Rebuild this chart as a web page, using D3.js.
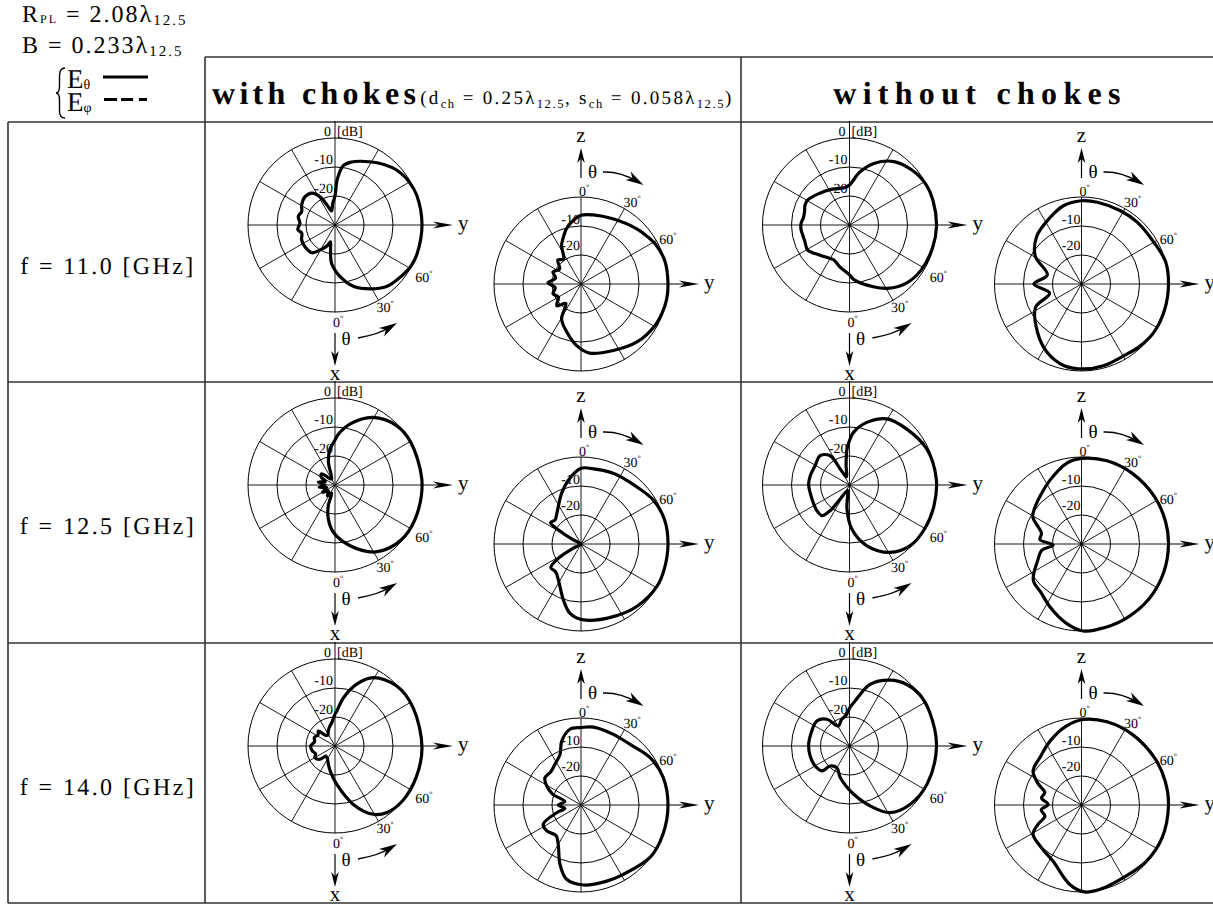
<!DOCTYPE html>
<html>
<head>
<meta charset="utf-8">
<script src="https://cdn.jsdelivr.net/npm/d3@7"></script>
<style>
  html, body { margin: 0; padding: 0; background: #fff; }
  svg { display: block; font-family: "Liberation Serif", "Times New Roman", serif; text-rendering: geometricPrecision; }
</style>
</head>
<body>
<svg id="chart" width="1213" height="905"></svg>
<script>
// ---------------- data ----------------
const frequencies = ["f = 11.0 [GHz]", "f = 12.5 [GHz]", "f = 14.0 [GHz]"];
const configurations = ["with chokes", "without chokes"];
const ringLevels = [0, -10, -20];          // dB rings, centre of each plot = -30 dB
const levelLabels = [-10, -20];
const spokeAngles = [0, 30, 60, 90, 120, 150, 180, 210, 240, 270, 300, 330];
const thetaMarks = [0, 30, 60];

// E-theta patterns: [bearing on the plot in degrees (clockwise from the top), level in dB]
// xy cut: theta runs from +x (down) towards +y (right); zy cut: from +z (up) towards +y (right)
const xyWith110 = [[0,-20],[3,-14],[8,-9.3],[15,-7.5],[22,-6.3],[34,-4.1],[45,-2],[52,-1.1],[60,-0.4],[70,0],[90,0],[110,0],[118,-0.2],[123,-0.6],[132,-1.5],[140,-2.3],[151,-4.8],[163,-7.8],[174,-12],[185,-16.7],[191,-22],[195,-24],[200,-22.5],[211,-19.9],[220,-17.5],[234,-17.2],[246,-17.4],[256,-18.2],[263,-17.1],[273,-17.9],[283,-17],[292,-17.6],[301,-16.6],[313,-15.8],[324,-16.4],[332,-19],[339,-23],[346,-25],[354,-22.5]];
const zyWith110 = [[0,-6.3],[10,-5.8],[26,-5],[45,-3],[55,-1.8],[63,-0.8],[75,0],[90,0],[100,0],[110,-0.3],[119,-0.7],[136,-2.2],[154,-4.5],[173,-6],[184,-8.7],[196,-12.6],[209,-16.2],[218,-21.5],[228,-18.8],[240,-21],[251,-19.8],[262,-21],[272,-18.6],[283,-21],[293,-19.5],[305,-21],[316,-18.5],[325,-19.5],[333,-15.2],[338,-13.3],[345,-10.4],[351,-8.5]];
const xyWithout110 = [[0,-16.2],[11,-11.4],[22,-7],[35,-3.3],[48,-1.4],[61,-0.2],[74,0],[91,0],[105,-0.3],[122,-0.8],[136,-2],[149,-4.5],[159,-7.2],[175,-11],[180,-12.8],[193,-15.2],[204,-16.8],[211,-16.6],[225,-15.4],[239,-13.2],[250,-13.6],[258,-13.5],[265,-13.2],[272,-13.3],[279,-13.9],[287,-13.8],[294,-13.2],[301,-13.2],[317,-15],[330,-16],[345,-16.9],[352,-17]];
const zyWithout110 = [[0,-1.3],[11,-1.3],[28,-1.4],[42,-1.3],[60,-1.2],[75,0],[90,0],[107,0],[124,0],[137,-0.6],[150,-1.3],[165,-0.8],[178,-0.7],[192,-1.2],[207,-3.7],[222,-7.4],[243,-12.2],[254,-18.6],[270,-13.6],[285,-17.8],[301,-11.4],[317,-7.4],[335,-4.6],[347,-2.3]];

const xyWith125 = [[0,-14.5],[4,-12.4],[14,-8.3],[29.5,-3.2],[46,-0.5],[60,0],[86,0],[106,0],[122,0],[130,-0.4],[139,-1.3],[150,-3.3],[166,-8.4],[182,-13.7],[191,-18],[198,-22.5],[203,-27],[215,-25.5],[228,-27],[240,-25],[252,-27],[262,-24.5],[271,-26.5],[280,-24.2],[290,-26.5],[300,-24.5],[310,-24],[320,-27],[331,-27.6],[344,-21.8],[352,-17.5]];
const zyWith125 = [[0,-3.9],[7,-3.7],[25,-3.2],[44,-2.5],[59,-0.8],[74,0],[90,0],[107,0],[119,0],[138,-1.1],[156,-2.6],[178,-3.8],[189,-5.8],[197.5,-9.8],[212,-15.3],[222,-17],[232,-16.8],[238,-21],[242,-27],[270,-30],[298,-27],[302,-21],[305,-17.2],[313,-17.8],[322,-16.5],[339,-11.3],[349,-7.5]];
const xyWithout125 = [[0,-14.7],[4.3,-11.8],[15.5,-7.6],[29.5,-3.8],[45.7,-2.4],[65,-0.6],[86,0],[104,0],[120,0],[135,-0.4],[149,-2.9],[164,-8.2],[177,-14.8],[186,-21.7],[190,-26.2],[200,-28],[213.6,-24.2],[217,-18.9],[222,-15.8],[232,-15.7],[250,-16.2],[271,-15.9],[283,-16.1],[299,-16.4],[315,-15.7],[326.6,-17.9],[330,-23.6],[340,-27],[350,-23.2],[356,-17.6]];
const zyWithout125 = [[0,-0.5],[17,0],[36,0],[57,0],[75,0],[90,0],[109,0],[129,0],[151,-0.1],[170,0],[179,0],[191,-2.2],[207,-5.8],[219,-8.1],[233,-9.2],[250,-14],[261,-16.1],[268,-20.2],[276,-15.6],[285,-15.7],[299,-10.8],[307,-9.7],[319,-8.2],[334,-5.4],[349.5,-1.7]];

const xyWith140 = [[0,-19],[3,-17.9],[10,-13.1],[19.4,-7.4],[29.3,-3],[45.8,-0.3],[64,0],[91,0],[111,0],[129,0],[142,-0.9],[150.7,-3],[162.6,-8.9],[177.5,-16.8],[190,-21],[200,-23.3],[212,-25],[222,-25.3],[228.5,-23.1],[240,-22],[248,-22.8],[258,-22],[270,-21.6],[282,-22.8],[292.5,-22.3],[303,-23],[312,-22.3],[318,-25],[327,-25.5],[336,-24.3],[345,-23],[352,-21.9]];
const zyWith140 = [[0,-3.3],[9,-2.8],[24.6,-3.2],[39,-3.1],[55.6,-1.1],[71.6,-0.1],[90,0],[109.6,0],[127,-0.1],[148.6,-2],[161.3,-2.3],[178,-2.4],[191,-3.9],[199.5,-8.3],[210,-14.3],[219,-16.4],[232.8,-15.2],[243,-15.4],[252.4,-21.2],[258,-24.3],[270,-22.2],[282,-24.3],[291,-19.5],[299,-16.5],[307,-14.4],[318,-14.5],[327.4,-13.3],[337.5,-11.1],[343.2,-7],[351.7,-3.6]];
const xyWithout140 = [[0,-17],[7.2,-14.3],[18.5,-7.6],[31.8,-3.3],[43,-1],[53.8,0],[67,0],[90,0],[116,-0.2],[134,-1],[148.6,-3.1],[158.7,-7.2],[175,-13.3],[196,-18.6],[210,-21.3],[224,-20.4],[227.8,-17.2],[239.7,-16.3],[255.7,-16],[272,-15.9],[291.8,-16],[307.5,-15.8],[319.7,-17.9],[331,-22.1],[343,-20.5],[355,-19]];
const zyWithout140 = [[1,-0.5],[17,0],[36,0],[58,0],[74,0],[90,0],[112,0],[131,-0.4],[150,-1.1],[168,-0.2],[178,0],[188.4,-2.3],[207,-8.3],[223,-9.8],[239,-10.5],[246,-13.6],[253,-16.8],[263,-16],[271,-18.5],[280,-16],[289,-16.6],[296,-13.4],[305,-9.6],[319,-8.2],[334,-5.4],[349,-2.3]];

// rows = frequencies, columns = configurations
const patterns = [
  [{ xy: xyWith110, zy: zyWith110 }, { xy: xyWithout110, zy: zyWithout110 }],
  [{ xy: xyWith125, zy: zyWith125 }, { xy: xyWithout125, zy: zyWithout125 }],
  [{ xy: xyWith140, zy: zyWith140 }, { xy: xyWithout140, zy: zyWithout140 }]
];

// ---------------- layout ----------------
const svg = d3.select("#chart");
const R = 87;
const rowTops = [122, 382, 643];
const tableBottom = 903;
const colPlotX = [{ xy: 335, zy: 581 }, { xy: 849.5, zy: 1081.5 }];
const ink = "#000";

const rScale = d3.scaleLinear().domain([-30, 0]).range([0, R]).clamp(true);
const rad = d => d * Math.PI / 180;
const polar = (bearing, r) => [r * Math.sin(rad(bearing)), -r * Math.cos(rad(bearing))];

const patternLine = d3.lineRadial()
  .angle(d => rad(d[0]))
  .radius(d => rScale(d[1]))
  .curve(d3.curveCatmullRomClosed.alpha(0.5));

// ---------------- helpers ----------------
function rich(parent, x, y, parts, attrs = {}) {
  const t = parent.append("text").attr("x", x).attr("y", y).attr("fill", ink);
  Object.entries(attrs).forEach(([k, v]) => t.attr(k, v));
  let cur = 0;
  parts.forEach(p => {
    const s = t.append("tspan").text(p.text).attr("font-size", p.size);
    const off = p.shift || 0;
    s.attr("dy", off - cur);
    cur = off;
    if (p.weight) s.attr("font-weight", p.weight);
    if (p.ls != null) s.attr("letter-spacing", p.ls);
  });
  return t;
}

function arrowHead(g, x, y, angleDeg, len, half) {
  const notch = len * 0.72;
  g.append("path")
    .attr("d", `M0,0 L${-len},${-half} L${-notch},0 L${-len},${half} Z`)
    .attr("transform", `translate(${x},${y}) rotate(${angleDeg})`)
    .attr("fill", ink);
}

function degreeLabel(g, x, y, value, anchor) {
  const t = g.append("text").attr("x", x).attr("y", y)
    .attr("font-size", 14).attr("text-anchor", anchor).attr("fill", ink);
  t.append("tspan").text(value);
  t.append("tspan").attr("font-size", 8).attr("dy", -6).text("\u00B0");
}

function grid(g) {
  g.selectAll("circle.ring").data(ringLevels).join("circle")
    .attr("class", "ring").attr("r", d => rScale(d))
    .attr("fill", "none").attr("stroke", ink).attr("stroke-width", 1);
  g.selectAll("line.spoke").data(spokeAngles).join("line")
    .attr("class", "spoke")
    .attr("x1", 0).attr("y1", 0)
    .attr("x2", a => polar(a, R)[0]).attr("y2", a => polar(a, R)[1])
    .attr("stroke", ink).attr("stroke-width", 0.9);
  // +y axis with arrow
  g.append("line").attr("x1", R).attr("y1", 0).attr("x2", 106).attr("y2", 0)
    .attr("stroke", ink).attr("stroke-width", 1);
  arrowHead(g, 118, 0, 0, 20, 3.6);
  g.append("text").attr("x", 123).attr("y", 5).attr("font-size", 21).attr("fill", ink).text("y");
}

function curve(g, data) {
  g.append("path").attr("d", patternLine(data))
    .attr("fill", "none").attr("stroke", ink)
    .attr("stroke-width", 3.2).attr("stroke-linejoin", "round");
}

function levelText(g, dx, offsets) {
  levelLabels.forEach((lv, k) => {
    g.append("text").attr("x", dx).attr("y", -rScale(lv) - offsets[k])
      .attr("font-size", 14).attr("text-anchor", "end").attr("fill", ink).text(lv);
  });
}

// xy-cut plot: theta from +x (pointing down) towards +y
function drawXY(g, data) {
  g.append("line").attr("x1", 0).attr("y1", -R).attr("x2", 0).attr("y2", -R - 17)
    .attr("stroke", ink).attr("stroke-width", 1);
  grid(g);
  curve(g, data);
  g.append("text").attr("x", -4).attr("y", -R - 2.5).attr("font-size", 14)
    .attr("text-anchor", "end").attr("fill", ink).text("0");
  g.append("text").attr("x", 2).attr("y", -R - 2.5).attr("font-size", 14)
    .attr("fill", ink).text("[dB]");
  levelText(g, -2, [3, 3]);
  thetaMarks.forEach(t => {
    const [ex, ey] = polar(180 - t, R);
    if (t === 0) degreeLabel(g, ex + 3, ey + 14.5, t, "middle");
    else if (t === 30) degreeLabel(g, ex - 2, ey + 12, t, "start");
    else degreeLabel(g, ex + 5, ey + 13, t, "start");
  });
  g.append("line").attr("x1", 0).attr("y1", 108).attr("x2", 0).attr("y2", 130)
    .attr("stroke", ink).attr("stroke-width", 1.2);
  arrowHead(g, 0, 141, 90, 15, 3.8);
  g.append("text").attr("x", 0).attr("y", 155).attr("font-size", 21)
    .attr("text-anchor", "middle").attr("fill", ink).text("x");
  g.append("text").attr("x", 6.5).attr("y", 120).attr("font-size", 19).attr("fill", ink).text("\u03B8");
  g.append("path").attr("d", "M23,113 Q45,109 56,101.5")
    .attr("fill", "none").attr("stroke", ink).attr("stroke-width", 1.3);
  arrowHead(g, 62, 98, -31, 18, 5);
}

// zy-cut plot: theta from +z (pointing up) towards +y
function drawZY(g, data) {
  grid(g);
  curve(g, data);
  levelText(g, -1, [2, 5]);
  thetaMarks.forEach(t => {
    const [ex, ey] = polar(t, R);
    if (t === 0) degreeLabel(g, ex + 3, ey - 1, t, "middle");
    else if (t === 30) degreeLabel(g, ex - 1, ey - 2, t, "start");
    else degreeLabel(g, ex + 3, ey + 3, t, "start");
  });
  g.append("line").attr("x1", 0).attr("y1", -106).attr("x2", 0).attr("y2", -125)
    .attr("stroke", ink).attr("stroke-width", 1.2);
  arrowHead(g, 0, -136, -90, 15, 3.8);
  g.append("text").attr("x", 0).attr("y", -142).attr("font-size", 21)
    .attr("text-anchor", "middle").attr("fill", ink).text("z");
  g.append("text").attr("x", 7).attr("y", -106).attr("font-size", 19).attr("fill", ink).text("\u03B8");
  g.append("path").attr("d", "M22,-112 Q40,-112.5 56,-102.5")
    .attr("fill", "none").attr("stroke", ink).attr("stroke-width", 1.3);
  arrowHead(g, 62.5, -99, 31, 18, 5);
}

// ---------------- table frame ----------------
const frame = svg.append("g").attr("stroke", "#333").attr("stroke-width", 1.6);
[[205, 57, 1213, 57], [8, 122, 1213, 122], [8, 382, 1213, 382], [8, 643, 1213, 643], [8, tableBottom, 1213, tableBottom],
 [8, 122, 8, tableBottom], [205, 57, 205, tableBottom], [741, 57, 741, tableBottom]]
  .forEach(([x1, y1, x2, y2]) => frame.append("line").attr("x1", x1).attr("y1", y1).attr("x2", x2).attr("y2", y2));

// ---------------- parameter legend ----------------
rich(svg, 22, 22, [
  { text: "R", size: 24 }, { text: "PL", size: 12, shift: 1 },
  { text: " = 2.08\u03BB", size: 24 }, { text: "12.5", size: 15, shift: 3 }
], { "letter-spacing": 2 });
rich(svg, 22, 53, [
  { text: "B = 0.233\u03BB", size: 24 }, { text: "12.5", size: 15, shift: 3 }
], { "letter-spacing": 2 });
svg.append("path").attr("d", "M65,68 Q59.5,68 59.5,76 L59.5,86 Q59.5,93 56,93 Q59.5,93 59.5,100 L59.5,111 Q59.5,118 65,118")
  .attr("fill", "none").attr("stroke", ink).attr("stroke-width", 1.4);
rich(svg, 67, 88, [{ text: "E", size: 27 }, { text: "\u03B8", size: 14, shift: 1 }]);
rich(svg, 67, 111, [{ text: "E", size: 27 }, { text: "\u03C6", size: 14, shift: 1 }]);
svg.append("line").attr("x1", 103).attr("y1", 77).attr("x2", 148).attr("y2", 77)
  .attr("stroke", ink).attr("stroke-width", 3);
svg.append("line").attr("x1", 104).attr("y1", 99.5).attr("x2", 147).attr("y2", 99.5)
  .attr("stroke", ink).attr("stroke-width", 3).attr("stroke-dasharray", "13 4 12 6 8 60");

// ---------------- column headers ----------------
rich(svg, 212, 104, [
  { text: configurations[0], size: 32, weight: "bold", ls: 4.3 },
  { text: "(d", size: 19, ls: 2.3 }, { text: "ch", size: 12.5, shift: 4, ls: 1.6 },
  { text: " = 0.25\u03BB", size: 19, ls: 2.3 }, { text: "12.5", size: 12.5, shift: 4, ls: 1.6 },
  { text: ", s", size: 19, ls: 2.3 }, { text: "ch", size: 12.5, shift: 4, ls: 1.6 },
  { text: " = 0.058\u03BB", size: 19, ls: 2.3 }, { text: "12.5", size: 12.5, shift: 4, ls: 1.6 },
  { text: ")", size: 19, ls: 2.3 }
]);
svg.append("text").attr("x", 980).attr("y", 104).attr("text-anchor", "middle")
  .attr("font-size", 32).attr("font-weight", "bold").attr("letter-spacing", 6.3)
  .attr("fill", ink).text(configurations[1]);

// ---------------- rows ----------------
frequencies.forEach((label, i) => {
  const top = rowTops[i];
  svg.append("text").attr("x", 108).attr("y", top + 152).attr("text-anchor", "middle")
    .attr("font-size", 24).attr("letter-spacing", 2.4).attr("fill", ink).text(label);
  colPlotX.forEach((c, j) => {
    const p = patterns[i][j];
    drawXY(svg.append("g").attr("transform", `translate(${c.xy},${top + 103})`), p.xy);
    drawZY(svg.append("g").attr("transform", `translate(${c.zy},${top + 162})`), p.zy);
  });
});
</script>
</body>
</html>
